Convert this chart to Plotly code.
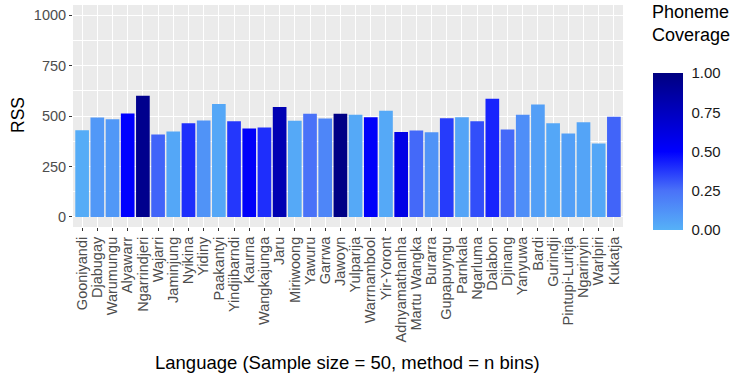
import plotly.graph_objects as go

languages = ["Gooniyandi", "Djabugay", "Warumungu", "Alyawarr", "Ngarrindjeri", "Wajarri",
             "Jaminjung", "Nyikina", "Yidiny", "Paakantyi", "Yindjibarndi", "Kaurna",
             "Wangkajunga", "Jaru", "Miriwoong", "Yawuru", "Garrwa", "Jawoyn", "Yulparija",
             "Warrnambool", "Yir-Yoront", "Adnyamathanha", "Martu Wangka", "Burarra",
             "Gupapuyngu", "Parnkala", "Ngarluma", "Dalabon", "Djinang", "Yanyuwa", "Bardi",
             "Gurindji", "Pintupi-Luritja", "Ngarinyin", "Warlpiri", "Kukatja"]
rss = [430, 493, 484, 512, 600, 408, 423, 464, 478, 559, 474, 438,
       443, 544, 476, 511, 488, 511, 506, 494, 526, 421, 428, 420,
       489, 494, 474, 585, 433, 506, 557, 464, 413, 469, 364, 496]
coverage = [0.02, 0.10, 0.10, 0.50, 0.95, 0.28, 0.04, 0.40, 0.12, 0.04, 0.38, 0.52,
            0.40, 0.80, 0.03, 0.25, 0.17, 0.98, 0.03, 0.52, 0.03, 0.60, 0.27, 0.12,
            0.37, 0.05, 0.33, 0.42, 0.27, 0.14, 0.07, 0.04, 0.07, 0.05, 0.04, 0.28]
y_ticks = [0, 250, 500, 750, 1000]
cb_ticks = [0, 0.25, 0.5, 0.75, 1.0]
cb_labels = ["0.00", "0.25", "0.50", "0.75", "1.00"]

colorscale = [[0, "#56B1F7"], [0.25, "#4A72F8"], [0.5, "#0000FF"], [0.75, "#0000C0"], [1, "#000080"]]

W, H = 740, 380
L, R, T, B = 73, 117, 5, 153
pw = W - L - R
ph = H - T - B


def px_x(x):
    return (x - L) / pw


def px_y(y):
    return (H - B - y) / ph


fig = go.Figure(go.Bar(
    x=languages, y=rss,
    marker=dict(color=coverage, colorscale=colorscale, cmin=0, cmax=1, line=dict(width=0),
                colorbar=dict(
                    lenmode="pixels", len=157, thickness=30,
                    x=px_x(653), xanchor="left", xpad=0,
                    y=px_y(230), yanchor="bottom", ypad=0,
                    tickvals=cb_ticks, ticktext=cb_labels,
                    ticks="outside", ticklen=6, tickcolor="white", tickwidth=1,
                    outlinewidth=0,
                    tickfont=dict(family="Liberation Sans", size=15, color="#1a1a1a"),
                )),
    showlegend=False,
    hoverinfo="skip",
))

fig.update_layout(
    width=W, height=H,
    margin=dict(l=L, r=R, t=T, b=B, autoexpand=False),
    paper_bgcolor="white", plot_bgcolor="#EBEBEB",
    bargap=0.1,
    font=dict(family="Liberation Sans"),
    xaxis=dict(
        range=[-0.6, len(languages) - 0.4], tickangle=-90,
        tickmode="array", tickvals=languages, ticktext=languages,
        showgrid=True, gridcolor="white", gridwidth=1.1,
        ticks="outside", ticklen=3, tickcolor="#333333", tickwidth=1,
        tickfont=dict(size=14.5, color="#4D4D4D"), zeroline=False, automargin=False,
    ),
    yaxis=dict(
        range=[-50, 1050], tickvals=y_ticks,
        showgrid=True, gridcolor="white", gridwidth=1.1,
        minor=dict(dtick=125, tick0=125, showgrid=True, gridcolor="white", gridwidth=0.5),
        ticks="outside", ticklen=3, tickcolor="#333333", tickwidth=1,
        tickfont=dict(size=14.5, color="#4D4D4D"), zeroline=False, automargin=False,
    ),
    annotations=[
        dict(text="RSS", xref="paper", yref="paper", x=px_x(18), y=px_y(115),
             xanchor="center", yanchor="middle",
             showarrow=False, textangle=-90, font=dict(size=17.5, color="black")),
        dict(text="Language (Sample size = 50, method = n bins)", xref="paper", yref="paper",
             x=px_x(347.5), y=px_y(362), xanchor="center", yanchor="middle",
             showarrow=False, font=dict(size=18.5, color="black")),
        dict(text="Phoneme<br>Coverage", xref="paper", yref="paper",
             x=px_x(650), y=px_y(0), xanchor="left", yanchor="top",
             align="left", showarrow=False, font=dict(size=18, color="black")),
    ],
)

fig.write_html("out.html", config={"displayModeBar": False},
               post_script="document.body.style.margin='0px';document.body.style.overflow='hidden';")
